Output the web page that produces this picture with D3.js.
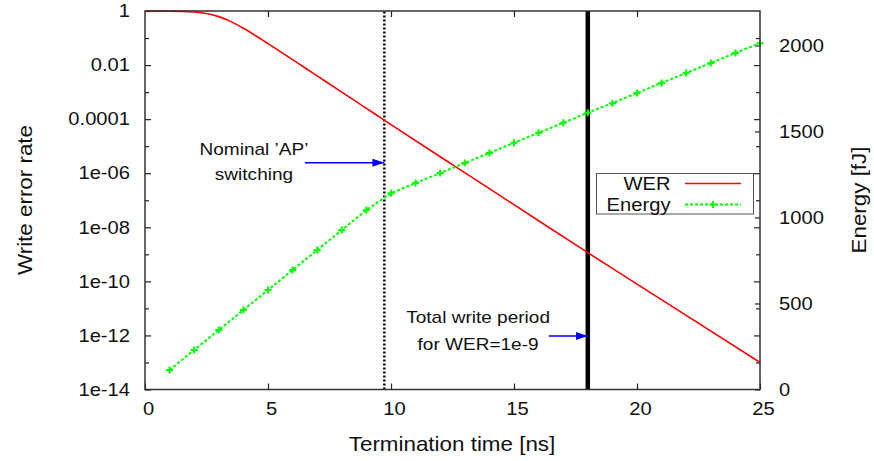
<!DOCTYPE html>
<html>
<head>
<meta charset="utf-8">
<title>WER and energy vs termination time</title>
<script src="https://d3js.org/d3.v7.min.js"></script>
<style>
 html, body { margin: 0; padding: 0; background: white; }
 svg text { font-family: "Liberation Sans", Arial, sans-serif; fill: #111; }
</style>
</head>
<body>
<div id="plot"></div>
<script>
// --- data ---
const werTime = [0, 1, 2, 2.5, 3, 3.5, 4, 4.5, 5, 5.5, 6, 6.5, 7, 8, 9, 10, 12, 14, 16, 18, 20, 22, 25];
const werValue = [1, 0.99, 0.916, 0.805, 0.619, 0.404, 0.23, 0.122, 0.0624, 0.0315, 0.0158, 7.94e-3, 3.98e-3,
                  1.0e-3, 2.51e-4, 6.31e-5, 4.07e-6, 2.69e-7, 1.74e-8, 1.15e-9, 7.94e-11, 5.5e-12, 1e-13];
const energyTime = [1, 2, 3, 4, 5, 6, 7, 8, 9, 10, 11, 12, 13, 14, 15, 16, 17, 18, 19, 20, 21, 22, 23, 24, 25];
const energyValue = [113, 230, 346, 462, 578, 695, 811, 927, 1043, 1141, 1200, 1258, 1317, 1375, 1434,
                     1492, 1550, 1609, 1664, 1724, 1782, 1840, 1898, 1956, 2013];
const xTicks = [0, 5, 10, 15, 20, 25];
const yTicks = [1, 1e-2, 1e-4, 1e-6, 1e-8, 1e-10, 1e-12, 1e-14];
const yTickLabels = ["1", "0.01", "0.0001", "1e-06", "1e-08", "1e-10", "1e-12", "1e-14"];
const yMinorTicks = [1e-1, 1e-3, 1e-5, 1e-7, 1e-9, 1e-11, 1e-13];
const y2Ticks = [0, 500, 1000, 1500, 2000];
const apSwitchTime = 9.73;      // dotted line
const writePeriodTime = 18;     // thick line (WER = 1e-9)
const seriesNames = ["WER", "Energy"];

// --- layout ---
const W = 874, H = 461;
const SX = 1.12; // picture text is stretched horizontally
const x = d3.scaleLinear().domain([0, 25]).range([145, 760]);
const y = d3.scaleLog().domain([1e-14, 1]).range([389.5, 11]);
const y2 = d3.scaleLinear().domain([0, 2200]).range([389.5, 11]);

const svg = d3.select("#plot").append("svg")
    .attr("width", W).attr("height", H);

function stretch(sel) {
    sel.each(function () {
        const t = d3.select(this);
        const tx = +t.attr("x") || 0, ty = +t.attr("y") || 0;
        t.attr("x", null).attr("y", null)
         .attr("transform", `translate(${tx},${ty}) scale(${SX},1)`);
    });
}

function styleAxis(g, size) {
    g.select(".domain").remove();
    g.selectAll(".tick line").attr("stroke", "#222").attr("stroke-width", 1.2);
    g.selectAll(".tick text").attr("font-size", size).attr("fill", "#111")
     .style("font-family", "'Liberation Sans', Arial, sans-serif");
    stretch(g.selectAll(".tick text"));
}

// bottom axis + mirror on top
svg.append("g").attr("transform", "translate(0,389.5)")
   .call(d3.axisBottom(x).tickValues(xTicks).tickFormat(d3.format("d")).tickSizeInner(-6).tickPadding(13))
   .call(g => styleAxis(g, 18))
   .selectAll(".tick text").attr("transform", function () {
       return this.getAttribute("transform").replace("translate(0,", "translate(3,");
   });
svg.append("g").attr("transform", "translate(0,11)")
   .call(d3.axisTop(x).tickValues(xTicks.slice(1, -1)).tickFormat("").tickSizeInner(-6))
   .call(g => styleAxis(g, 18));

// left log axis, minor ticks, mirrored on the right
svg.append("g").attr("transform", "translate(145,0)")
   .call(d3.axisLeft(y).tickValues(yTicks).tickFormat((d, i) => yTickLabels[i]).tickSizeInner(-6).tickPadding(15))
   .call(g => styleAxis(g, 18));
svg.append("g").attr("transform", "translate(145,0)")
   .call(d3.axisLeft(y).tickValues(yMinorTicks).tickFormat("").tickSizeInner(-4))
   .call(g => styleAxis(g, 18));
svg.append("g").attr("transform", "translate(760,0)")
   .call(d3.axisRight(y).tickValues(yTicks.slice(1, -1)).tickFormat("").tickSizeInner(-6))
   .call(g => styleAxis(g, 18));
svg.append("g").attr("transform", "translate(760,0)")
   .call(d3.axisRight(y).tickValues(yMinorTicks).tickFormat("").tickSizeInner(-4))
   .call(g => styleAxis(g, 18));

// right energy axis
svg.append("g").attr("transform", "translate(760,0)")
   .call(d3.axisRight(y2).tickValues(y2Ticks).tickFormat(d3.format("d")).tickSizeInner(-5).tickPadding(19))
   .call(g => styleAxis(g, 18));

// reference lines
svg.append("line")
   .attr("x1", x(apSwitchTime)).attr("x2", x(apSwitchTime))
   .attr("y1", y.range()[0]).attr("y2", y.range()[1])
   .attr("stroke", "#000").attr("stroke-width", 2.5).attr("stroke-dasharray", "2,2");
svg.append("line")
   .attr("x1", x(writePeriodTime)).attr("x2", x(writePeriodTime))
   .attr("y1", y.range()[0]).attr("y2", y.range()[1])
   .attr("stroke", "#000").attr("stroke-width", 4.5);

// WER curve
const werData = werTime.map((t, i) => ({t: t, v: werValue[i]}));
svg.append("path").datum(werData)
   .attr("fill", "none").attr("stroke", "#ff0000").attr("stroke-width", 1.6)
   .attr("d", d3.line().x(d => x(d.t)).y(d => y(d.v)).curve(d3.curveMonotoneX));

// Energy curve
const energyData = energyTime.map((t, i) => ({t: t, e: energyValue[i]}));
svg.append("path").datum(energyData)
   .attr("fill", "none").attr("stroke", "#00ff00").attr("stroke-width", 2)
   .attr("stroke-dasharray", "3,2")
   .attr("d", d3.line().x(d => x(d.t)).y(d => y2(d.e)));
const plus = (g, cx, cy) => {
    g.append("path")
     .attr("d", `M${cx - 3.5},${cy}H${cx + 3.5}M${cx},${cy - 3.5}V${cy + 3.5}`)
     .attr("stroke", "#00ff00").attr("stroke-width", 2);
};
const markers = svg.append("g");
energyData.forEach(d => plus(markers, x(d.t), y2(d.e)));

// border
svg.append("rect").attr("x", 145).attr("y", 11).attr("width", 615).attr("height", 378.5)
   .attr("fill", "none").attr("stroke", "#333").attr("stroke-width", 1.5);

// arrows and notes
svg.append("defs").append("marker")
   .attr("id", "head").attr("viewBox", "0 0 12 8").attr("refX", 12).attr("refY", 4)
   .attr("markerWidth", 12).attr("markerHeight", 8).attr("markerUnits", "userSpaceOnUse")
   .attr("orient", "auto")
   .append("path").attr("d", "M0,0L12,4L0,8Z").attr("fill", "#0000ff");

const notes = [
    {lines: ["Nominal \u2019AP\u2019", "switching"], tx: 4.43, ty: [4.7e-6, 5.6e-7], from: 6.5, to: apSwitchTime, ay: 2.45e-6},
    {lines: ["Total write period", "for WER=1e-9"], tx: 13.54, ty: [2.9e-12, 2.9e-13], from: 16.42, to: writePeriodTime, ay: 9.5e-13}
];
notes.forEach(n => {
    svg.append("line")
       .attr("x1", x(n.from)).attr("x2", x(n.to)).attr("y1", y(n.ay)).attr("y2", y(n.ay))
       .attr("stroke", "#0000ff").attr("stroke-width", 1.5).attr("marker-end", "url(#head)");
    n.lines.forEach((s, i) => {
        svg.append("text").attr("text-anchor", "middle").attr("font-size", 17)
           .attr("transform", `translate(${x(n.tx)},${y(n.ty[i])}) scale(${SX},1)`)
           .text(s);
    });
});

// legend
const leg = svg.append("g");
leg.append("rect").attr("x", 596.5).attr("y", 173.5).attr("width", 157).attr("height", 40.5)
   .attr("fill", "white").attr("stroke", "#555").attr("stroke-width", 1);
seriesNames.forEach((name, i) => {
    const cy = 183.5 + i * 21;
    leg.append("text").attr("text-anchor", "end").attr("font-size", 18)
       .attr("transform", `translate(670.5,${cy + 6.5}) scale(${SX},1)`).text(name);
    const ln = leg.append("line").attr("x1", 685).attr("x2", 741).attr("y1", cy).attr("y2", cy);
    if (i === 0) {
        ln.attr("stroke", "#ff0000").attr("stroke-width", 1.6);
    } else {
        ln.attr("stroke", "#00ff00").attr("stroke-width", 2).attr("stroke-dasharray", "3,2");
        plus(leg, 713, cy);
    }
});

// axis titles
svg.append("text").attr("text-anchor", "middle").attr("font-size", 20)
   .attr("transform", `translate(452,451) scale(${SX},1)`).text("Termination time [ns]");
svg.append("text").attr("text-anchor", "middle").attr("font-size", 20)
   .attr("transform", `translate(32,200) rotate(-90) scale(${SX},1)`).text("Write error rate");
svg.append("text").attr("text-anchor", "middle").attr("font-size", 20)
   .attr("transform", `translate(866,200) rotate(-90) scale(${SX},1)`).text("Energy [fJ]");
</script>
</body>
</html>
